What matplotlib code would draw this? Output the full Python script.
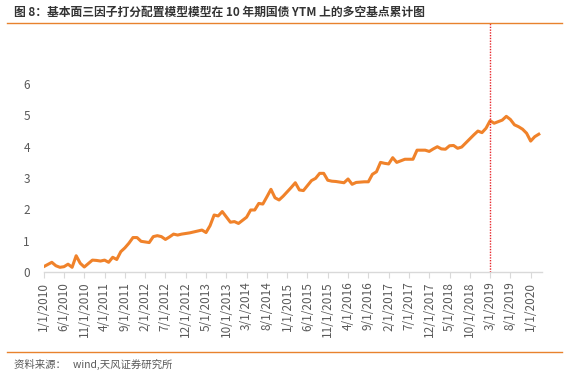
import matplotlib
matplotlib.use("Agg")
import matplotlib.pyplot as plt
from matplotlib.lines import Line2D
import numpy as np
import pandas as pd

plt.rcParams['font.family'] = ['Noto Sans CJK SC', 'DejaVu Sans']

# data: cumulative long-short basis points (monthly, 2010-01 .. 2020-03)
months = pd.date_range('2010-01-01', periods=123, freq='MS')
cum_bp = [
    0.17, 0.24, 0.31, 0.20, 0.15, 0.17, 0.25, 0.15, 0.52, 0.28,
    0.16, 0.27, 0.38, 0.37, 0.35, 0.38, 0.31, 0.47, 0.40, 0.65,
    0.77, 0.92, 1.10, 1.10, 0.98, 0.96, 0.94, 1.13, 1.16, 1.13,
    1.04, 1.12, 1.21, 1.18, 1.21, 1.23, 1.25, 1.28, 1.31, 1.34,
    1.26, 1.48, 1.82, 1.79, 1.93, 1.76, 1.59, 1.61, 1.55, 1.65,
    1.75, 1.98, 1.98, 2.19, 2.17, 2.40, 2.64, 2.37, 2.30, 2.42,
    2.56, 2.70, 2.85, 2.62, 2.60, 2.76, 2.92, 2.99, 3.15, 3.15,
    2.93, 2.90, 2.89, 2.87, 2.85, 2.97, 2.80, 2.86, 2.87, 2.88,
    2.88, 3.12, 3.20, 3.50, 3.47, 3.45, 3.65, 3.50, 3.55, 3.60,
    3.60, 3.60, 3.89, 3.89, 3.89, 3.85, 3.93, 4.00, 3.93, 3.92,
    4.03, 4.04, 3.95, 3.99, 4.12, 4.25, 4.38, 4.50, 4.45, 4.59,
    4.83, 4.75, 4.80, 4.85, 4.97, 4.87, 4.70, 4.64, 4.56, 4.43,
    4.18, 4.32, 4.40,
]
split_date = '2019-03-01'
y_ticks = [0, 1, 2, 3, 4, 5, 6]

title = '图 8：基本面三因子打分配置模型模型在 10 年期国债 YTM 上的多空基点累计图'
source = '资料来源：   wind,天风证券研究所'

orange = '#F0822A'
gray = '#595959'
light = '#D9D9D9'

fig = plt.figure(figsize=(5.69, 3.74), dpi=100)
ax = fig.add_axes([0.0768, 0.2727, 0.8758, 0.6658])

x = np.arange(len(months))
ax.plot(x, cum_bp, color=orange, lw=2.2, solid_joinstyle='round')

split_idx = list(months).index(pd.Timestamp(split_date))
ax.axvline(split_idx, color='#E8262B', lw=1.0, ls=(0, (1, 1)))

ax.set_xlim(0, 122.8)
ax.set_ylim(0, 7.95)

tick_pos = x[::5]
tick_lab = [f'{d.month}/1/{d.year}' for d in months[::5]]
ax.set_xticks(tick_pos)
ax.set_xticklabels(tick_lab, rotation=90, fontsize=8.5, color=gray)
ax.set_yticks(y_ticks)
ax.set_yticklabels([str(v) for v in y_ticks], fontsize=8.5, color=gray)

for s in ['top', 'right', 'left']:
    ax.spines[s].set_visible(False)
ax.spines['bottom'].set_color(light)
ax.spines['bottom'].set_linewidth(1.0)
ax.tick_params(axis='x', direction='out', length=4, color=light, pad=3)
ax.tick_params(axis='y', length=0, pad=10)

# header / footer
fig.text(14 / 569, 1 - 12 / 374, title, fontsize=8.5, fontweight='bold',
         color='#333333', va='center', ha='left')
fig.add_artist(Line2D([7 / 569, 562 / 569], [1 - 23 / 374] * 2,
                      color='#E8822D', lw=1.0))
fig.add_artist(Line2D([7 / 569, 562 / 569], [1 - 352 / 374] * 2,
                      color='#E8822D', lw=1.0))
fig.text(14 / 569, 1 - 364 / 374, source, fontsize=7.5, color=gray,
         va='center', ha='left')

plt.savefig('out.png', dpi=100)
